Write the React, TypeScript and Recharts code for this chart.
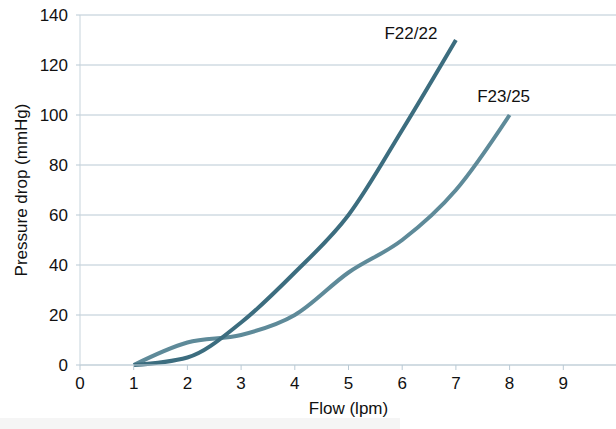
import { LineChart, Line, XAxis, YAxis, CartesianGrid, LabelList } from "recharts";

const flowF22 = [1, 2, 3, 4, 5, 6, 7];
const dropF22 = [0, 3, 17, 37, 60, 94, 130];
const flowF23 = [1, 2, 3, 4, 5, 6, 7, 8];
const dropF23 = [0, 9, 12, 20, 37, 50, 70, 100];
const xTicks = [0, 1, 2, 3, 4, 5, 6, 7, 8, 9];
const yTicks = [0, 20, 40, 60, 80, 100, 120, 140];

const f22 = flowF22.map((x, i) => ({ x, y: dropF22[i] }));
const f23 = flowF23.map((x, i) => ({ x, y: dropF23[i] }));

const FONT = "'Liberation Sans', Arial, sans-serif";
const tickStyle = { fontSize: 17, fill: "#111", fontFamily: FONT };

// put the series name near the last point only
function endLabel(name: string, count: number, dx: number, dy: number) {
  return (props: any) => {
    const { x, y, index } = props;
    if (index !== count - 1) return null;
    return (
      <text x={x + dx} y={y + dy} fontSize={17} fill="#111" fontFamily={FONT} textAnchor="middle">
        {name}
      </text>
    );
  };
}

function yTitle(props: any) {
  const vb = props.viewBox;
  const cx = vb.x + 21;
  const cy = vb.y + vb.height / 2;
  return (
    <text
      x={cx}
      y={cy}
      transform={`rotate(-90 ${cx} ${cy})`}
      textAnchor="middle"
      dominantBaseline="central"
      fontSize={17}
      fill="#111"
      fontFamily={FONT}
    >
      Pressure drop (mmHg)
    </text>
  );
}

export default function App() {
  return (
    <div
      style={{
        position: "absolute",
        left: 0,
        top: 0,
        width: 616,
        height: 429,
        overflow: "hidden",
        background: "#fff",
      }}
    >
      <div style={{ position: "absolute", left: 0, top: 418, width: 400, height: 11, background: "#f5f5f5" }} />
      <LineChart width={617} height={429} margin={{ top: 15, right: 0, bottom: 12, left: 0 }}>
        <CartesianGrid vertical={false} stroke="#b9c9d4" strokeWidth={1} />
        <XAxis
          type="number"
          dataKey="x"
          domain={[0, 10]}
          ticks={xTicks}
          interval={0}
          allowDuplicatedCategory={false}
          stroke="#c7d4dc"
          tickLine={{ stroke: "#b9c9d4" }}
          tickSize={5}
          tickMargin={7}
          tick={tickStyle}
          height={52}
          label={{ value: "Flow (lpm)", position: "insideBottom", offset: 3, style: { fontSize: 17, fill: "#111", fontFamily: FONT } }}
        />
        <YAxis
          type="number"
          domain={[0, 140]}
          ticks={yTicks}
          interval={0}
          width={80}
          stroke="#c7d4dc"
          tickLine={{ stroke: "#b9c9d4" }}
          tickSize={4}
          tickMargin={8}
          tick={tickStyle}
          label={{ content: yTitle }}
        />
        <Line
          data={f23}
          dataKey="y"
          type="monotone"
          stroke="#5e8a99"
          strokeWidth={4}
          dot={false}
          isAnimationActive={false}
        >
          <LabelList dataKey="y" content={endLabel("F23/25", f23.length, -6, -13)} />
        </Line>
        <Line
          data={f22}
          dataKey="y"
          type="monotone"
          stroke="#3c6d7f"
          strokeWidth={4}
          dot={false}
          isAnimationActive={false}
        >
          <LabelList dataKey="y" content={endLabel("F22/22", f22.length, -45, -1)} />
        </Line>
      </LineChart>
    </div>
  );
}
